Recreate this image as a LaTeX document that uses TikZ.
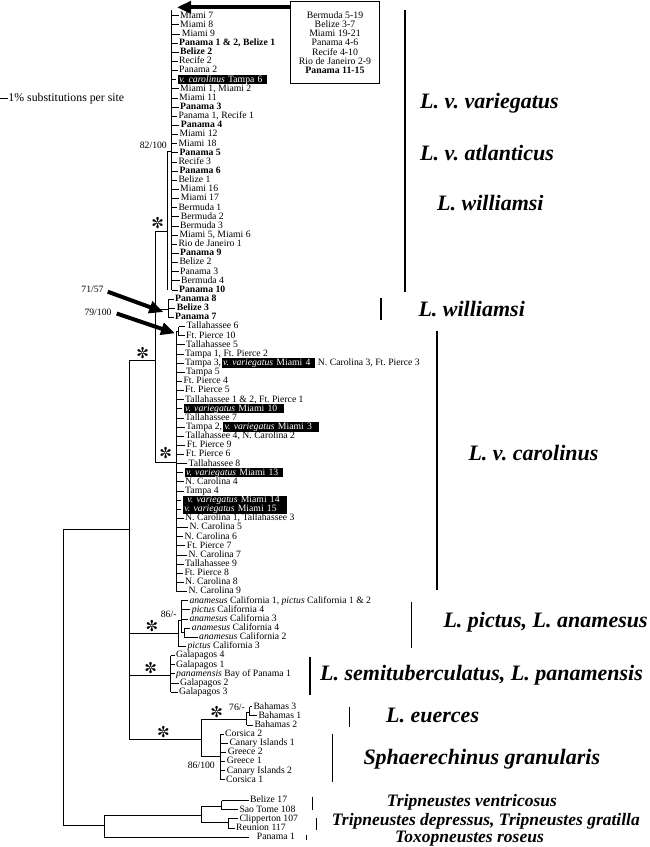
\documentclass[tikz,border=0pt]{standalone}
\usepackage{fontspec}
\setmainfont{Liberation Serif}
\newfontfamily\dingfont{DejaVu Sans}
\usetikzlibrary{arrows.meta,positioning}
\frenchspacing
\newcommand{\tipfont}{\fontsize{9.7}{9.2}\selectfont}
\newcommand{\boxfont}{\fontsize{9.8}{9.2}\selectfont}
\newcommand{\cladefont}{\fontsize{22}{24}\selectfont\bfseries\itshape}
\newcommand{\smcladefont}{\fontsize{17.5}{19}\selectfont\bfseries\itshape}
\begin{document}
\begin{tikzpicture}[x=1pt,y=-1pt,
  tip/.style={anchor=west,inner sep=0pt,font=\tipfont,text height=6.8pt,text depth=2pt},
  hl/.style={tip,fill=black,text=white,inner xsep=1.5pt,inner ysep=0.2pt,align=left},
  br/.style={line width=0.8pt},
  bar/.style={line width=1.1pt},
  boot/.style={inner sep=0pt,font=\tipfont},
  star/.style={inner sep=0pt,font=\dingfont\fontsize{15}{15}\selectfont},
  clade/.style={anchor=west,inner sep=0pt,font=\cladefont,text height=15pt,text depth=4.5pt},
  smclade/.style={anchor=west,inner sep=0pt,font=\smcladefont,text height=12pt,text depth=3.5pt},
  fat/.style={line width=4pt,-{Triangle[length=14pt,width=12pt]}}]
\useasboundingbox (0,0) rectangle (650,847);
% scale bar
\draw[br] (0,98.3)--(7.5,98.3);
\node[anchor=base west,inner sep=0pt,font=\fontsize{11.8}{13}\selectfont] (scl) at (8.3,101.6) {1\% substitutions per site};
% tips, L. v. variegatus group
\node[tip] (t1) at (180,15.7) {Miami 7};
\node[tip] (t2) at (180,24.8) {Miami 8};
\node[tip] (t3) at (181.7,34) {Miami 9};
\node[tip] (t4) at (179,43.1) {\textbf{Panama 1 \& 2, Belize 1}};
\node[tip] (t5) at (180,52.3) {\textbf{Belize 2}};
\node[tip] (t6) at (179,61.4) {Recife 2};
\node[tip] (t7) at (179,70.5) {Panama 2};
\node[hl,text width=86.3pt] (t8) at (177.7,79.7) {\textit{v. carolinus} Tampa 6};
\node[tip] (t9) at (180,88.8) {Miami 1, Miami 2};
\node[tip] (t10) at (179,98) {Miami 11};
\node[tip] (t11) at (180,107.1) {\textbf{Panama 3}};
\node[tip] (t12) at (178.3,116.2) {Panama 1, Recife 1};
\node[tip] (t13) at (180.7,125.4) {\textbf{Panama 4}};
\node[tip] (t14) at (179.3,134.5) {Miami 12};
\node[tip] (t15) at (178.3,143.7) {Miami 18};
\node[tip] (t16) at (179.3,152.8) {\textbf{Panama 5}};
\node[tip] (t17) at (178.3,161.9) {Recife 3};
\node[tip] (t18) at (179.3,171.1) {\textbf{Panama 6}};
\node[tip] (t19) at (178.3,180.2) {Belize 1};
\node[tip] (t20) at (180,189.4) {Miami 16};
\node[tip] (t21) at (180.7,198.5) {Miami 17};
\node[tip] (t22) at (178.3,207.6) {Bermuda 1};
\node[tip] (t23) at (180.7,216.8) {Bermuda 2};
\node[tip] (t24) at (180,225.9) {Bermuda 3};
\node[tip] (t25) at (179.3,235.1) {Miami 5, Miami 6};
\node[tip] (t26) at (178.3,244.2) {Rio de Janeiro 1};
\node[tip] (t27) at (180,253.3) {\textbf{Panama 9}};
\node[tip] (t28) at (179.3,262.5) {Belize 2};
\node[tip] (t29) at (180,271.6) {Panama 3};
\node[tip] (t30) at (181,280.8) {Bermuda 4};
\node[tip] (t31) at (179,289.9) {\textbf{Panama 10}};
\node[tip] (t32) at (175,299) {\textbf{Panama 8}};
\node[tip] (t33) at (176.7,308.2) {\textbf{Belize 3}};
\node[tip] (t34) at (175,317.3) {\textbf{Panama 7}};
% tips, L. v. carolinus
\node[tip] (t35) at (186.5,326.5) {Tallahassee 6};
\node[tip] (t36) at (186,335.6) {Ft. Pierce 10};
\node[tip] (t37) at (186,344.7) {Tallahassee 5};
\node[tip] (t38) at (185,353.9) {Tampa 1, Ft. Pierce 2};
\node[tip] (t39) at (185,363) {Tampa 3,};
\node[hl,text width=90pt,right=0pt of t39] (t39b) {\textit{v. variegatus} Miami 4};
\node[tip,right=3pt of t39b] (t39c) {N. Carolina 3, Ft. Pierce 3};
\node[tip] (t40) at (186,372.2) {Tampa 5};
\node[tip] (t41) at (183.3,381.3) {Ft. Pierce 4};
\node[tip] (t42) at (185,390.4) {Ft. Pierce 5};
\node[tip] (t43) at (185,399.6) {Tallahassee 1 \& 2, Ft. Pierce 1};
\node[hl,text width=97pt] (t44) at (183.3,408.7) {\textit{v. variegatus} Miami 10};
\node[tip] (t45) at (185,417.9) {Tallahassee 7};
\node[tip] (t46) at (186,427) {Tampa 2,};
\node[hl,text width=92.7pt,right=0.5pt of t46] (t46b) {\textit{v. variegatus} Miami 3};
\node[tip] (t47) at (185.5,436.1) {Tallahassee 4, N. Carolina 2};
\node[tip] (t48) at (186.7,445.3) {Ft. Pierce 9};
\node[tip] (t49) at (185.7,454.4) {Ft. Pierce 6};
\node[tip] (t50) at (188.3,463.6) {Tallahassee 8};
\node[hl,text width=95.4pt] (t51) at (184.3,472.7) {\textit{v. variegatus} Miami 13};
\node[tip] (t52) at (185,481.8) {N. Carolina 4};
\node[tip] (t53) at (185,491) {Tampa 4};
\node[hl,text width=101pt] (t54) at (182.7,500.1) {\hspace*{3pt}\textit{v. variegatus} Miami 14};
\node[hl,text width=101pt] (t55) at (182.7,509.3) {\textit{v. variegatus} Miami 15};
\node[tip] (t56) at (185,518.4) {N. Carolina 1, Tallahassee 3};
\node[tip] (t57) at (189.3,527.5) {N. Carolina 5};
\node[tip] (t58) at (184.3,536.7) {N. Carolina 6};
\node[tip] (t59) at (186.7,545.8) {Ft. Pierce 7};
\node[tip] (t60) at (188.3,555) {N. Carolina 7};
\node[tip] (t61) at (185,564.1) {Tallahassee 9};
\node[tip] (t62) at (184.3,573.2) {Ft. Pierce 8};
\node[tip] (t63) at (185,582.4) {N. Carolina 8};
\node[tip] (t64) at (188.3,591.5) {N. Carolina 9};
% tips, pictus / anamesus
\node[tip] (t65) at (189.3,600.7) {\textit{anamesus} California 1, \textit{pictus} California 1 \& 2};
\node[tip] (t66) at (191.7,609.8) {\textit{pictus} California 4};
\node[tip] (t67) at (189.3,618.9) {\textit{anamesus} California 3};
\node[tip] (t68) at (191.7,628.1) {\textit{anamesus} California 4};
\node[tip] (t69) at (199,637.2) {\textit{anamesus} California 2};
\node[tip] (t70) at (187.3,646.4) {\textit{pictus} California 3};
% tips, Galapagos
\node[tip] (t71) at (176,655.5) {Galapagos 4};
\node[tip] (t72) at (176,664.6) {Galapagos 1};
\node[tip] (t73) at (176,673.8) {\textit{panamensis} Bay of Panama 1};
\node[tip] (t74) at (180,682.9) {Galapagos 2};
\node[tip] (t75) at (179,692.1) {Galapagos 3};
% tips, euerces and Sphaerechinus
\node[tip] (t76) at (253.3,706.6) {Bahamas 3};
\node[tip] (t77) at (258.3,715.7) {Bahamas 1};
\node[tip] (t78) at (254.3,724.9) {Bahamas 2};
\node[tip] (t79) at (225,734) {Corsica 2};
\node[tip] (t80) at (229.3,743.2) {Canary Islands 1};
\node[tip] (t81) at (227.7,752.3) {Greece 2};
\node[tip] (t82) at (226.7,761.4) {Greece 1};
\node[tip] (t83) at (226.7,770.6) {Canary Islands 2};
\node[tip] (t84) at (226,779.7) {Corsica 1};
% tips, outgroups
\node[tip] (t85) at (250,800.5) {Belize 17};
\node[tip] (t86) at (239.3,809.6) {Sao Tome 108};
\node[tip] (t87) at (239.3,818.8) {Clipperton 107};
\node[tip] (t88) at (236,827.9) {Reunion 117};
\node[tip] (t89) at (256.7,837.1) {Panama 1};
% inner nodes
\coordinate (nV) at (171.5,10);
\coordinate (n82) at (167,151);
\coordinate (nW) at (168,309);
\coordinate (nVW) at (155.7,231);
\coordinate (nC) at (176,462);
\coordinate (nC1) at (178.5,331);
\coordinate (nL) at (129,360);
\coordinate (nP) at (178.3,633);
\coordinate (nP1) at (181,620);
\coordinate (nP2) at (184,632);
\coordinate (nG) at (170.7,675);
\coordinate (nE) at (201.7,739);
\coordinate (nB) at (246.7,719);
\coordinate (nB1) at (249.5,712);
\coordinate (nS) at (220,756);
\coordinate (nR) at (63.3,529);
\coordinate (nT) at (104.3,825.7);
\coordinate (nT1) at (201,815);
\coordinate (nT2) at (221.7,806.7);
\coordinate (nT3) at (228,822.5);
% branches
\draw[br] (nL |- nR)--(nR) |- (nT);
\draw[br] (nVW |- nL)--(nL)--(nL |- nE)--(nE);
\draw[br] (nL |- nP)--(nP);
\draw[br] (nL |- nG)--(nG);
\draw[br] (n82 |- nVW)--(nVW)--(nVW |- nC)--(nC);
\draw[br] (nVW |- nW)--(nW);
\draw[br] (nV)--(nV |- t31.west);
\draw[br] (nV |- n82)--(n82)--(n82 |- t31.west);
\draw[br] (nW |- t32.west)--(nW |- t34.west);
\draw[br] (nC1)--(nC |- nC1)--(nC |- t64.west);
\draw[br] (nC1 |- t35.west)--(nC1 |- t36.west);
\draw[br] (nP)--(nP |- nP1)--(nP1);
\draw[br] (nP |- nP1)--(nP |- t70.west);
\draw[br] (nP1 |- t65.west)--(nP1 |- nP2)--(nP2);
\draw[br] (nP2 |- t68.west)--(nP2 |- t69.west);
\draw[br] (nG |- t71.west)--(nG |- t75.west);
\draw[br] (nB)--(nE |- nB)--(nE |- nS)--(nS);
\draw[br] (nB |- nB1)--(nB1);
\draw[br] (nB |- nB1)--(nB |- t78.west);
\draw[br] (nB1 |- t76.west)--(nB1 |- t77.west);
\draw[br] (nS |- t79.west)--(nS |- t84.west);
\draw[br] (nT |- nT1)--(nT1);
\draw[br] (nT |- nT1)--(nT |- t89.west);
\draw[br] (nT1 |- nT2)--(nT2);
\draw[br] (nT1 |- nT2)--(nT1 |- nT3)--(nT3);
\draw[br] (nT2 |- t85.west)--(nT2 |- t86.west);
\draw[br] (nT3 |- t87.west)--(nT3 |- t88.west);
% leaf ticks
\foreach \i in {1,...,31} \draw[br] (nV |- t\i.west)--([xshift=-1.5pt]t\i.west);
\foreach \i in {32,33,34} \draw[br] (nW |- t\i.west)--([xshift=-1.5pt]t\i.west);
\foreach \i in {35,36} \draw[br] (nC1 |- t\i.west)--([xshift=-1.5pt]t\i.west);
\foreach \i in {37,...,64} \draw[br] (nC |- t\i.west)--([xshift=-1.5pt]t\i.west);
\foreach \i in {65,66,67} \draw[br] (nP1 |- t\i.west)--([xshift=-1.5pt]t\i.west);
\foreach \i in {68,69} \draw[br] (nP2 |- t\i.west)--([xshift=-1.5pt]t\i.west);
\draw[br] (nP |- t70.west)--([xshift=-1.5pt]t70.west);
\foreach \i in {71,...,75} \draw[br] (nG |- t\i.west)--([xshift=-1.5pt]t\i.west);
\foreach \i in {76,77} \draw[br] (nB1 |- t\i.west)--([xshift=-1.5pt]t\i.west);
\draw[br] (nB |- t78.west)--([xshift=-1.5pt]t78.west);
\foreach \i in {79,...,84} \draw[br] (nS |- t\i.west)--([xshift=-1.5pt]t\i.west);
\foreach \i in {85,86} \draw[br] (nT2 |- t\i.west)--([xshift=-1.5pt]t\i.west);
\foreach \i in {87,88} \draw[br] (nT3 |- t\i.west)--([xshift=-1.5pt]t\i.west);
\draw[br] (nT |- t89.west)--([xshift=-8pt]t89.west);
% support values
\node[star] (s1) at (157.7,223) {✼};
\node[star] (s2) at (142.7,353) {✼};
\node[star] (s3) at (165.7,453) {✼};
\node[star] (s4) at (152,626) {✼};
\node[star] (s5) at (150.7,668) {✼};
\node[star] (s6) at (163.3,732) {✼};
\node[star] (s7) at (216.7,712) {✼};
\node[boot,anchor=east] (b82) at (167,145) {82/100};
\node[boot] (b71) at (92.5,289) {71/57};
\node[boot] (b79) at (98,312.5) {79/100};
\node[boot,anchor=east] (b86) at (176.7,614) {86/-};
\node[boot,anchor=east] (b76) at (245,707.3) {76/-};
\node[boot,anchor=east] (b86b) at (215,765) {86/100};
\coordinate (aW) at (163.3,312);
\coordinate (aC) at (175,333.3);
\draw[fat] ([shift={(4,2.7)}]b71.east)--(aW);
\draw[fat] ([shift={(5,1)}]b79.east)--(aC);
% box of grouped haplotypes
\node[draw,line width=0.9pt,align=center,font=\boxfont,minimum width=88.3pt,minimum height=81.6pt,inner sep=0pt] (tipbox) at (335,42.5)
  {Bermuda 5-19\\Belize 3-7\\Miami 19-21\\Panama 4-6\\Recife 4-10\\Rio de Janeiro 2-9\\\textbf{Panama 11-15}};
\coordinate (aV) at (177,7.3);
\draw[fat] (tipbox.west |- aV)--(aV);
% clade bars and names
\draw[bar] (405,10)--(405,291.7);
\node[clade] (cV) at (420,103) {L. v. variegatus};
\node[clade] (cA) at (420,155) {L. v. atlanticus};
\node[clade] (cW) at (437,205) {L. williamsi};
\draw[bar] (381,298.3)--(381,320);
\node[clade] (cW2) at (418.3,311.7) {L. williamsi};
\draw[bar] (437,330.7)--(437,590);
\node[clade] (cC) at (468.3,455) {L. v. carolinus};
\draw[bar] (411.7,601.7)--(411.7,648.3);
\node[clade] (cP) at (443.3,622) {L. pictus, L. anamesus};
\draw[bar] (310,656.7)--(310,695);
\node[clade] (cS) at (320,675) {L. semituberculatus, L. panamensis};
\draw[bar] (349.3,706.7)--(349.3,726.7);
\node[clade] (cE) at (386,717) {L. euerces};
\draw[bar] (332.3,734)--(332.3,781.7);
\node[clade] (cSp) at (363.3,759) {Sphaerechinus granularis};
\draw[bar] (312.3,796.7)--(312.3,810);
\node[smclade] (cTv) at (386.7,802) {Tripneustes ventricosus};
\draw[bar] (316.7,818.3)--(316.7,830);
\node[smclade] (cTd) at (331.7,821) {Tripneustes depressus, Tripneustes gratilla};
\draw[bar] (306.7,834.5)--(306.7,840);
\node[smclade] (cTr) at (395,838.5) {Toxopneustes roseus};
\end{tikzpicture}
\end{document}
